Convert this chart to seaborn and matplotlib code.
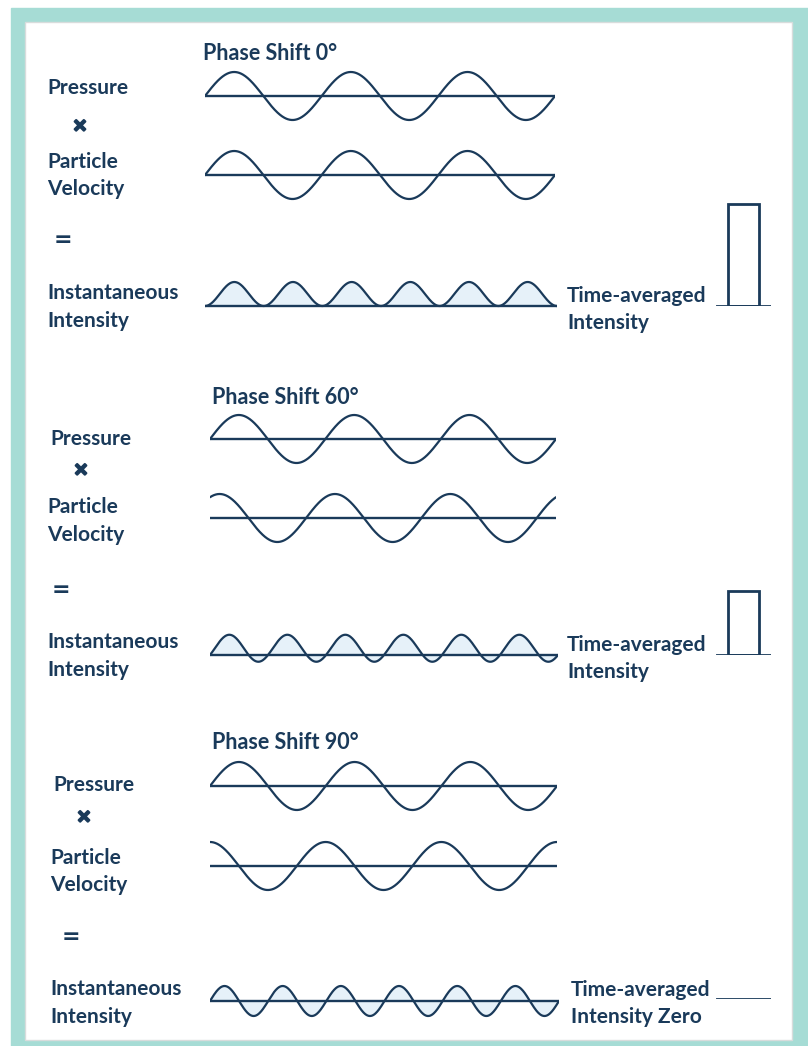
import numpy as np
import matplotlib
matplotlib.use('Agg')
import matplotlib.pyplot as plt
import matplotlib.patheffects as pe
from matplotlib.patches import Rectangle
import seaborn as sns

# ========== data ==========
phase_shifts = [0, 60, 90]              # degrees, velocity relative to pressure
cycles = 3                              # wave periods drawn per row
time_averaged = [1.0, 0.63, 0.0]        # bar heights
phase_titles = ['Phase Shift 0°', 'Phase Shift 60°', 'Phase Shift 90°']
zero_label = 'Intensity Zero'

# ========== style ==========
sns.set_theme(style='white')
plt.rcParams['font.family'] = ['Lato', 'DejaVu Sans']
NAVY = '#1a3a5a'
TEAL = '#a6dcd5'
FILL = '#e6f1f9'
W, H = 808, 1046

fig = plt.figure(figsize=(W / 100, H / 100), dpi=100)
fig.patch.set_facecolor('white')
fig.add_artist(Rectangle((11 / W, 0), 1 - 11 / W, 1 - 8 / H,
                         transform=fig.transFigure, color=TEAL, zorder=0))
fig.add_artist(Rectangle((25 / W, 6 / H), (792 - 25) / W, (1040 - 22) / H,
                         transform=fig.transFigure, facecolor='white',
                         edgecolor='#d8dcdc', linewidth=1, zorder=0))


def px_ax(x0, x1, yc, half):
    """axes spanning x0..x1 px, yc±half px (top-down pixel coords)"""
    ax = fig.add_axes([x0 / W, 1 - (yc + half) / H, (x1 - x0) / W, 2 * half / H])
    ax.axis('off')
    ax.patch.set_alpha(0)
    return ax


def label(x, y, s, size=15, family=None):
    fig.text(x / W, 1 - y / H, s, color=NAVY, fontsize=size, fontweight='bold',
             ha='left', va='baseline', family=family)


def wave_row(x0, x1, yc, values, t, amp_px, fill=False):
    half = 45
    ax = px_ax(x0, x1, yc, half)
    if fill:
        ax.fill_between(t, values, 0, color=FILL, linewidth=0)
    sns.lineplot(x=t, y=values, ax=ax, color=NAVY, linewidth=1.6)
    ax.axhline(0, color=NAVY, linewidth=1.7)
    ax.set_xlim(t[0], t[-1])
    ax.set_ylim(-half / amp_px, half / amp_px)
    ax.axis('off')
    return ax


# layout per panel (pixels)
rows = [
    dict(x0=205, x1=555, p_y=96, v_y=175, i_y=306, i_amp=24, title=(203, 60),
         text_x=47, bl=[94, 168, 195, 299, 327], times=(80, 126), eq=(54, 246),
         ta=(567, 302), bar_y=306),
    dict(x0=210, x1=556, p_y=439, v_y=518, i_y=655, i_amp=27, title=(212, 404),
         text_x=47, bl=[445, 513, 541, 648, 676], times=(81, 470), eq=(52, 596),
         ta=(567, 651), bar_y=655),
    dict(x0=210, x1=557, p_y=786, v_y=866, i_y=1001, i_amp=30, title=(212, 749),
         text_x=50, bl=[791, 864, 891, 995, 1023], times=(84, 817), eq=(62, 943),
         ta=(571, 996), bar_y=999),
]

t = np.linspace(0, 2 * np.pi * cycles, 600)
for k, (phi, avg, r) in enumerate(zip(phase_shifts, time_averaged, rows)):
    pressure = np.sin(t)
    velocity = np.sin(t + np.deg2rad(phi))
    intensity = pressure * velocity

    wave_row(r['x0'], r['x1'], r['p_y'], pressure, t, 24)
    wave_row(r['x0'], r['x1'], r['v_y'], velocity, t, 24)
    wave_row(r['x0'], r['x1'] + 2, r['i_y'], intensity, t, r['i_amp'], fill=True)

    # text
    label(r['title'][0], r['title'][1], phase_titles[k], size=15.5)
    tx = r['text_x'] + (3 if k else 0)
    label(tx, r['bl'][0], 'Pressure')
    label(r['text_x'], r['bl'][1], 'Particle')
    label(r['text_x'], r['bl'][2], 'Velocity')
    label(r['text_x'], r['bl'][3], 'Instantaneous')
    label(r['text_x'], r['bl'][4], 'Intensity')
    fig.text(r['times'][0] / W, 1 - r['times'][1] / H, '×', color=NAVY,
             fontsize=13, fontweight='bold', ha='center', va='center',
             family='DejaVu Sans',
             path_effects=[pe.withStroke(linewidth=1.6, foreground=NAVY)])
    label(r['eq'][0], r['eq'][1], '=', size=16, family='DejaVu Sans')
    label(r['ta'][0], r['ta'][1], 'Time-averaged')
    label(r['ta'][0], r['ta'][1] + 27, zero_label if avg == 0 else 'Intensity')

    # time-averaged bar
    bax = fig.add_axes([716 / W, 1 - r['bar_y'] / H, 55 / W, 110 / H])
    bax.patch.set_alpha(0)
    if avg > 0:
        sns.barplot(x=['avg'], y=[avg], ax=bax, fill=False, color=NAVY,
                    linewidth=2, width=0.56)
    bax.axhline(0, color=NAVY, linewidth=2)
    bax.set_xlim(-0.5, 0.5)
    bax.set_ylim(0, 110 / 102)
    bax.axis('off')

fig.savefig('out.png', dpi=100, facecolor='white')
